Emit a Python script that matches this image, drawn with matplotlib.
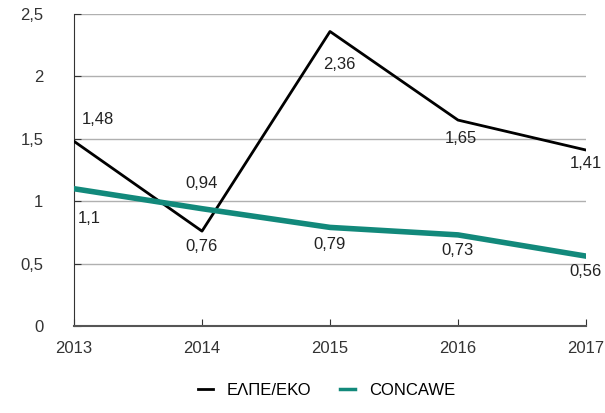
import matplotlib
matplotlib.use("Agg")
import matplotlib.pyplot as plt
from matplotlib.lines import Line2D

plt.rcParams['font.family'] = ['Liberation Sans', 'DejaVu Sans']

years = [2013, 2014, 2015, 2016, 2017]
elpe = [1.48, 0.76, 2.36, 1.65, 1.41]
concawe = [1.1, 0.94, 0.79, 0.73, 0.56]

# label offsets in points (dx, dy)
elpe_off = [(17, 16), (0, -11), (7, -24), (2, -13), (0, -9.5)]
concawe_off = [(11, -21.5), (0, 18), (0, -12), (0, -11.5), (0, -11)]

teal = "#12897b"

fig = plt.figure(figsize=(6.05, 4.13), dpi=100)
ax = fig.add_axes([74 / 605, 1 - 326 / 413, 512 / 605, 312 / 413])

ax.plot(years, elpe, color="black", lw=2, zorder=3)
ax.plot(years, concawe, color=teal, lw=4, zorder=3)

def fmt(v):
    return f"{v:g}".replace(".", ",")

for x, y, (dx, dy) in zip(years, elpe, elpe_off):
    ax.annotate(fmt(y), (x, y), xytext=(dx, dy), textcoords="offset points",
                ha="center", va="center", fontsize=12, color="#222222",
                annotation_clip=False)
for x, y, (dx, dy) in zip(years, concawe, concawe_off):
    ax.annotate(fmt(y), (x, y), xytext=(dx, dy), textcoords="offset points",
                ha="center", va="center", fontsize=12, color="#222222",
                annotation_clip=False)

ax.set_xlim(2013, 2017)
ax.set_ylim(0, 2.5)
ax.set_xticks(years)
ax.set_yticks([0, 0.5, 1, 1.5, 2, 2.5])
ax.set_yticklabels(["0", "0,5", "1", "1,5", "2", "2,5"])
ax.grid(axis="y", color="#b0b0b0", lw=1)
ax.set_axisbelow(True)
for s in ["top", "right"]:
    ax.spines[s].set_visible(False)
ax.spines["left"].set_color("#333333")
ax.spines["bottom"].set_color("#555555")
ax.spines["bottom"].set_linewidth(1.5)
ax.tick_params(direction="in", length=5, labelsize=12, colors="#333333")
ax.tick_params(axis="y", pad=22)
ax.tick_params(axis="x", pad=11)

handles = [Line2D([], [], color="black", lw=2), Line2D([], [], color=teal, lw=2.5)]
fig.legend(handles, ["ΕΛΠΕ/ΕΚΟ", "CONCAWE"], loc="lower center",
           bbox_to_anchor=(0.54, 0.0), ncol=2, frameon=False,
           fontsize=12, handlelength=0.9, handletextpad=0.8, columnspacing=1.75)

fig.savefig("out.png", dpi=100)
